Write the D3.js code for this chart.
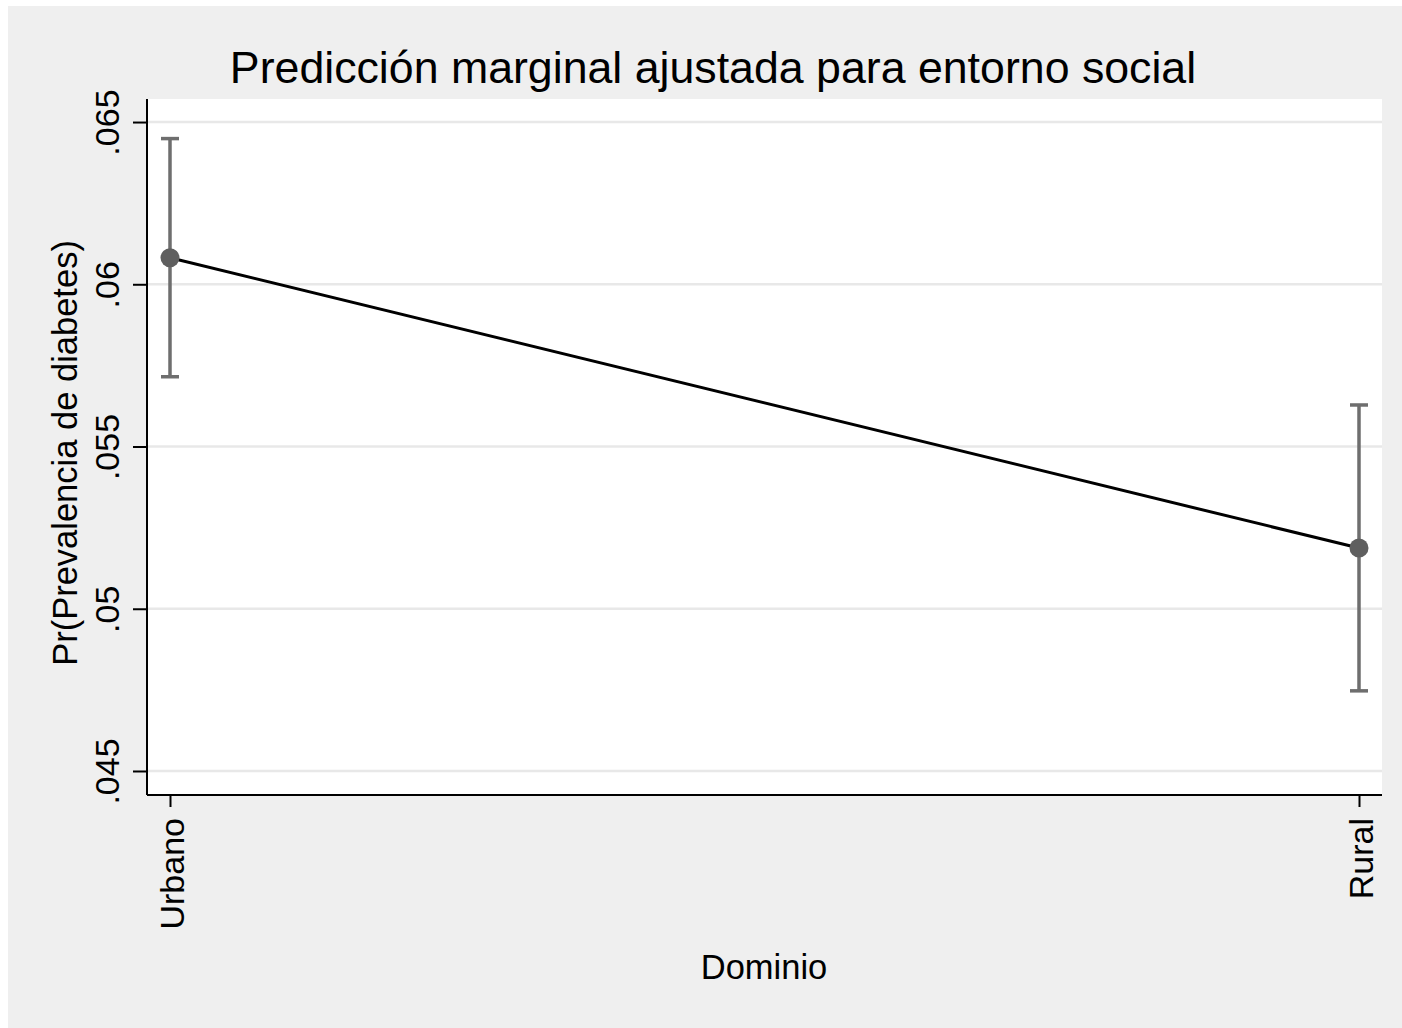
<!DOCTYPE html>
<html>
<head>
<meta charset="utf-8">
<script src="https://cdn.jsdelivr.net/npm/d3@7"></script>
<style>
  html, body { margin: 0; padding: 0; background: #ffffff; overflow: hidden; }
  svg { display: block; }
  text { font-family: "Liberation Sans", Arial, Helvetica, sans-serif; fill: #000; }
</style>
</head>
<body>
<svg id="chart" width="1402" height="1028"></svg>
<script>
// ---- data ----
const categories = ["Urbano", "Rural"];
const estimates = [0.06082, 0.05187];
const ciLower = [0.05715, 0.04747];
const ciUpper = [0.06449, 0.05628];
const yTicks = [0.045, 0.05, 0.055, 0.06, 0.065];
const yTickLabels = [".045", ".05", ".055", ".06", ".065"];
const titleText = "Predicción marginal ajustada para entorno social";
const xTitle = "Dominio";
const yTitle = "Pr(Prevalencia de diabetes)";

// ---- layout ----
const W = 1402, H = 1028;
const plot = { left: 147, right: 1382, top: 99, bottom: 795 };
const svg = d3.select("#chart");

svg.append("rect").attr("x", 8).attr("y", 6).attr("width", W - 8).attr("height", H - 6).attr("fill", "#efefef");
svg.append("rect").attr("x", plot.left).attr("y", plot.top)
  .attr("width", plot.right - plot.left).attr("height", plot.bottom - plot.top).attr("fill", "#ffffff");

const y = d3.scaleLinear().domain([0.04426, 0.06571]).range([plot.bottom, plot.top]);
const x = d3.scalePoint().domain(categories).range([170, 1359]);

// gridlines
svg.append("g").selectAll("line").data(yTicks).join("line")
  .attr("x1", plot.left).attr("x2", plot.right)
  .attr("y1", d => y(d)).attr("y2", d => y(d))
  .attr("stroke", "#e8e8e8").attr("stroke-width", 2.5);

// y axis
const yAxis = d3.axisLeft(y).tickValues(yTicks).tickSize(14).tickPadding(0)
  .tickFormat((d, i) => yTickLabels[i]);
const gy = svg.append("g").attr("transform", `translate(${plot.left},0)`).call(yAxis);
gy.select(".domain").attr("stroke", "#000").attr("stroke-width", 2)
  .attr("d", `M0,${plot.top}V${plot.bottom}`);
gy.selectAll(".tick line").attr("stroke", "#000").attr("stroke-width", 2);
gy.selectAll(".tick text")
  .attr("x", null).attr("dy", null)
  .attr("transform", "translate(-28,0) rotate(-90)")
  .attr("text-anchor", "middle")
  .style("font-size", "34px")
  .style("font-family", '"Liberation Sans", Arial, sans-serif')
  .attr("fill", "#000");

// x axis
const xAxis = d3.axisBottom(x).tickSize(12).tickPadding(0);
const gx = svg.append("g").attr("transform", `translate(0,${plot.bottom})`).call(xAxis);
gx.select(".domain").attr("stroke", "#000").attr("stroke-width", 2)
  .attr("d", `M${plot.left},0H${plot.right}`);
gx.selectAll(".tick line").attr("stroke", "#000").attr("stroke-width", 2);
gx.selectAll(".tick text")
  .attr("y", null).attr("dy", null)
  .attr("transform", "translate(13,23) rotate(-90)")
  .attr("text-anchor", "end")
  .style("font-size", "34px")
  .style("font-family", '"Liberation Sans", Arial, sans-serif')
  .attr("fill", "#000");

// data rows
const rows = categories.map((c, i) => ({ c, est: estimates[i], lo: ciLower[i], hi: ciUpper[i] }));

// error bars
const eb = svg.append("g").attr("stroke", "#6e6e6e").attr("stroke-width", 3.5);
eb.selectAll("line.v").data(rows).join("line").attr("class", "v")
  .attr("x1", d => x(d.c)).attr("x2", d => x(d.c))
  .attr("y1", d => y(d.lo)).attr("y2", d => y(d.hi));
eb.selectAll("line.top").data(rows).join("line").attr("class", "top")
  .attr("x1", d => x(d.c) - 9).attr("x2", d => x(d.c) + 9)
  .attr("y1", d => y(d.hi)).attr("y2", d => y(d.hi));
eb.selectAll("line.bot").data(rows).join("line").attr("class", "bot")
  .attr("x1", d => x(d.c) - 9).attr("x2", d => x(d.c) + 9)
  .attr("y1", d => y(d.lo)).attr("y2", d => y(d.lo));

// connecting line
svg.append("path").datum(rows)
  .attr("d", d3.line().x(d => x(d.c)).y(d => y(d.est)))
  .attr("fill", "none").attr("stroke", "#000").attr("stroke-width", 3);

// points
svg.append("g").selectAll("circle").data(rows).join("circle")
  .attr("cx", d => x(d.c)).attr("cy", d => y(d.est)).attr("r", 9.5)
  .attr("fill", "#5f5f5f");

// titles
svg.append("text").attr("x", 713).attr("y", 83).attr("text-anchor", "middle")
  .style("font-size", "44.7px").text(titleText);
svg.append("text").attr("x", 764).attr("y", 979).attr("text-anchor", "middle")
  .style("font-size", "34.5px").text(xTitle);
svg.append("text").attr("transform", "translate(77,453) rotate(-90)").attr("text-anchor", "middle")
  .style("font-size", "34.5px").text(yTitle);
</script>
</body>
</html>
